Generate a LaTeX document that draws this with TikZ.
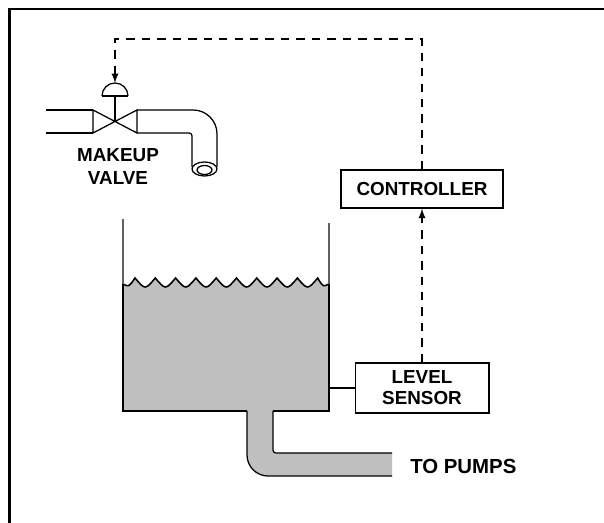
\documentclass[tikz,border=0pt]{standalone}
\usepackage{fontspec}
\setmainfont{Liberation Sans}
\tikzset{
  box/.style={draw, line width=1pt, inner sep=0pt, align=center,
    font=\bfseries\fontsize{13.4}{15}\selectfont},
  signal/.style={dash pattern=on 6pt off 5pt, line width=1.3pt},
  pipe/.style={line width=0.9pt},
  wall/.style={draw=gray!75!black, line width=1.3pt},
  tag/.style={inner sep=0pt, align=center, font=\bfseries\fontsize{13.4}{17}\selectfont},
}
\begin{document}
\begin{tikzpicture}[>=latex, x=0.025cm, y=-0.025cm]
\useasboundingbox (0,0) rectangle (604,523);
\draw[line width=1.8pt] (604,9)--(9.5,9)--(9.5,523);

% tank contents
\fill[gray!50] (123,284) .. controls (129,287) .. (135,278)
  \foreach \i in {1,...,9} { .. controls ({124.85+20.3*\i},290) .. ({135+20.3*\i},278) }
  .. controls (323,287) .. (329,284) -- (329,411) -- (273,411) -- (273,453) -- (392,453)
  -- (392,476) -- (268,476) -- (247,455) -- (247,411) -- (123,411) -- cycle;
\fill[gray!50] (268,476) arc[start angle=90, end angle=180, radius=21] -- cycle;
\draw[line width=1.1pt] (123,284) .. controls (129,287) .. (135,278)
  \foreach \i in {1,...,9} { .. controls ({124.85+20.3*\i},290) .. ({135+20.3*\i},278) }
  .. controls (323,287) .. (329,284);

% tank walls
\draw[wall] (123,219) -- (123,284);
\draw[wall] (329,223) -- (329,284);
\draw[pipe] (123,284) -- (123,411) -- (247,411);
\draw[pipe, rounded corners=15pt] (247,411) -- (247,476) -- (392,476);
\draw[pipe, rounded corners=2pt] (392,453) -- (273,453) -- (273,411);
\draw[pipe] (273,411) -- (329,411) -- (329,284);

% makeup line and valve
\draw[pipe] (46,110) -- (93,110);  \draw[pipe] (46,133) -- (93,133);
\draw[pipe] (93,110) -- (93,133) -- (137,110) -- (137,133) -- cycle;
\draw[pipe] (115,121.5) -- (115,96);
\draw[pipe] (102,96) -- (128,96);
\draw[pipe] (102,96) arc[start angle=180, end angle=360, radius=13];
\draw[pipe, rounded corners=17pt] (137,110) -- (217,110) -- (217,167);
\draw[pipe, rounded corners=2pt] (137,133) -- (192,133) -- (192,167);
\draw[pipe] (204.5,169) ellipse [x radius=12.5, y radius=7];
\draw[pipe] (204.5,170) ellipse [x radius=7.5, y radius=4.5];
\coordinate (act) at (115,83);
\coordinate (top) at (115,39);

\node[tag] (valve) at (118,166.5) {MAKEUP\\VALVE};

% instruments
\node[box, minimum width=115pt, minimum height=27pt] (ctrl) at (422,189) {CONTROLLER};
\node[box, minimum width=95pt, minimum height=35.5pt] (sensor) at (422,388) {LEVEL\\SENSOR};
\coordinate (tap) at (329,388);
\draw[pipe] (tap) -- (sensor.west);

\draw[signal,->] (sensor.north) -- (ctrl.south);
\draw[signal,->] (ctrl.north) |- (top) -- (act);

\node[tag, anchor=west, font=\bfseries\fontsize{14.5}{17}\selectfont] (pumps) at (410,466) {TO PUMPS};
\end{tikzpicture}
\end{document}
